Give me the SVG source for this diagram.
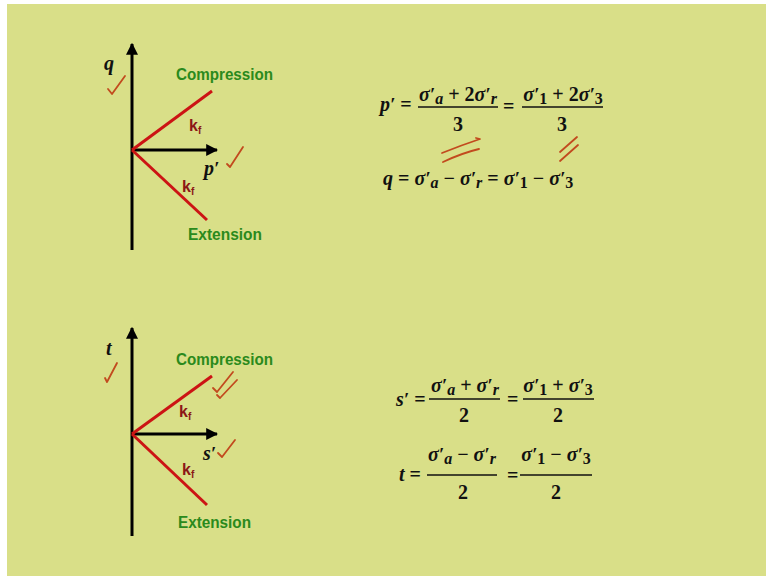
<svg xmlns="http://www.w3.org/2000/svg" width="766" height="576" viewBox="0 0 766 576">
<style>
.ax{stroke:#000;stroke-width:3;fill:none}
.fl{stroke:#cc1414;stroke-width:3;fill:none}
.lab{font-family:"Liberation Sans",Arial,sans-serif;font-weight:bold;fill:#2b8a1c;font-size:16px}
.kf{font-family:"Liberation Sans",Arial,sans-serif;font-weight:bold;fill:#8c1616;font-size:16px}
.m{font-family:"Liberation Serif","Times New Roman",serif;font-weight:bold;font-style:italic;fill:#111;font-size:20px}
.mu{font-family:"Liberation Serif","Times New Roman",serif;font-weight:bold;font-style:normal;fill:#111;font-size:20px}
.pr{font-size:19px}
.sb{font-size:16px}
.bar{stroke:#111;stroke-width:1.5}
.ink{stroke:#c24a1e;stroke-width:1.8;fill:none;stroke-linecap:round;stroke-linejoin:round}
</style>
<defs>
<marker id="ah" viewBox="0 0 10 10" refX="9" refY="5" markerWidth="4" markerHeight="4" orient="auto" markerUnits="strokeWidth">
<path d="M0,0 L10,5 L0,10 Z" fill="#000"/>
</marker>
</defs>
<rect x="0" y="0" width="766" height="576" fill="#fff"/>
<rect x="7" y="4" width="759" height="572" fill="#d9df88"/>

<g id="connectors">
<line class="ax" x1="132" y1="250" x2="132" y2="44" marker-end="url(#ah)"/>
<line class="ax" x1="132" y1="150" x2="217" y2="150" marker-end="url(#ah)"/>
<line class="fl" x1="132" y1="150" x2="212" y2="91"/>
<line class="fl" x1="132" y1="150" x2="207" y2="220"/>
<line class="ax" x1="132" y1="536" x2="132" y2="328" marker-end="url(#ah)"/>
<line class="ax" x1="132" y1="434" x2="217" y2="434" marker-end="url(#ah)"/>
<line class="fl" x1="132" y1="434" x2="212" y2="376"/>
<line class="fl" x1="132" y1="434" x2="207" y2="505"/>
</g>

<g id="qp-plot">
<text class="m" x="104" y="70">q</text>
<text class="lab" x="176" y="80" textLength="97" lengthAdjust="spacingAndGlyphs">Compression</text>
<text class="kf" x="189" y="131">k<tspan font-size="10" dy="3">f</tspan></text>
<text class="kf" x="182" y="192">k<tspan font-size="10" dy="3">f</tspan></text>
<text class="m" x="204" y="175">p<tspan class="pr">′</tspan></text>
<text class="lab" x="188" y="240" textLength="74" lengthAdjust="spacingAndGlyphs">Extension</text>
</g>

<g id="ts-plot">
<text class="m" x="106" y="355">t</text>
<text class="lab" x="176" y="365" textLength="97" lengthAdjust="spacingAndGlyphs">Compression</text>
<text class="kf" x="179" y="417">k<tspan font-size="10" dy="3">f</tspan></text>
<text class="kf" x="182" y="475">k<tspan font-size="10" dy="3">f</tspan></text>
<text class="m" x="203" y="460">s<tspan class="pr">′</tspan></text>
<text class="lab" x="178" y="528" textLength="73" lengthAdjust="spacingAndGlyphs">Extension</text>
</g>

<g id="eq-p">
<text class="m" x="380" y="111">p<tspan class="pr">′</tspan><tspan class="mu"> =</tspan></text>
<text class="m" x="458" y="101" text-anchor="middle">σ<tspan class="pr">′</tspan><tspan class="sb" dy="3">a</tspan><tspan class="mu" dy="-3"> + 2</tspan>σ<tspan class="pr">′</tspan><tspan class="sb" dy="3">r</tspan></text>
<line class="bar" x1="418" y1="107" x2="498" y2="107"/>
<text class="mu" x="458" y="131" text-anchor="middle">3</text>
<text class="mu" x="503" y="113">=</text>
<text class="m" x="563" y="101" text-anchor="middle">σ<tspan class="pr">′</tspan><tspan class="mu sb" dy="3">1</tspan><tspan class="mu" dy="-3"> + 2</tspan>σ<tspan class="pr">′</tspan><tspan class="mu sb" dy="3">3</tspan></text>
<line class="bar" x1="522" y1="107" x2="603" y2="107"/>
<text class="mu" x="562" y="131" text-anchor="middle">3</text>
</g>

<g id="eq-q">
<text class="m" x="383" y="185">q<tspan class="mu"> = </tspan>σ<tspan class="pr">′</tspan><tspan class="sb" dy="3">a</tspan><tspan class="mu" dy="-3"> − </tspan>σ<tspan class="pr">′</tspan><tspan class="sb" dy="3">r</tspan><tspan class="mu" dy="-3"> = </tspan>σ<tspan class="pr">′</tspan><tspan class="mu sb" dy="3">1</tspan><tspan class="mu" dy="-3"> − </tspan>σ<tspan class="pr">′</tspan><tspan class="mu sb" dy="3">3</tspan></text>
</g>

<g id="eq-s">
<text class="m" x="396" y="406">s<tspan class="pr">′</tspan><tspan class="mu"> =</tspan></text>
<text class="m" x="465" y="392" text-anchor="middle">σ<tspan class="pr">′</tspan><tspan class="sb" dy="3">a</tspan><tspan class="mu" dy="-3"> + </tspan>σ<tspan class="pr">′</tspan><tspan class="sb" dy="3">r</tspan></text>
<line class="bar" x1="429" y1="399" x2="500" y2="399"/>
<text class="mu" x="464" y="422" text-anchor="middle">2</text>
<text class="mu" x="507" y="406">=</text>
<text class="m" x="558" y="392" text-anchor="middle">σ<tspan class="pr">′</tspan><tspan class="mu sb" dy="3">1</tspan><tspan class="mu" dy="-3"> + </tspan>σ<tspan class="pr">′</tspan><tspan class="mu sb" dy="3">3</tspan></text>
<line class="bar" x1="523" y1="399" x2="594" y2="399"/>
<text class="mu" x="558" y="422" text-anchor="middle">2</text>
</g>

<g id="eq-t">
<text class="m" x="399" y="481">t<tspan class="mu"> =</tspan></text>
<text class="m" x="462" y="461" text-anchor="middle">σ<tspan class="pr">′</tspan><tspan class="sb" dy="3">a</tspan><tspan class="mu" dy="-3"> − </tspan>σ<tspan class="pr">′</tspan><tspan class="sb" dy="3">r</tspan></text>
<line class="bar" x1="427" y1="475" x2="497" y2="475"/>
<text class="mu" x="463" y="499" text-anchor="middle">2</text>
<text class="mu" x="507" y="482">=</text>
<text class="m" x="556" y="461" text-anchor="middle">σ<tspan class="pr">′</tspan><tspan class="mu sb" dy="3">1</tspan><tspan class="mu" dy="-3"> − </tspan>σ<tspan class="pr">′</tspan><tspan class="mu sb" dy="3">3</tspan></text>
<line class="bar" x1="520" y1="475" x2="592" y2="475"/>
<text class="mu" x="556" y="499" text-anchor="middle">2</text>
</g>

<g id="annotations">
<path class="ink" d="M108,89 L112,94 L125,76"/>
<path class="ink" d="M227,164 L230,167 L243,147"/>
<path class="ink" d="M442,153 Q462,145 480,139 L476,138"/>
<path class="ink" d="M443,162 Q462,153 479,149"/>
<path class="ink" d="M560,152 L577,137"/>
<path class="ink" d="M560,161 L578,145"/>
<path class="ink" d="M105,378 L107,382 L117,363"/>
<path class="ink" d="M213,388 L217,392 L233,372"/>
<path class="ink" d="M217,395 L220,398 L237,380"/>
<path class="ink" d="M218,453 L222,457 L235,440"/>
</g>
</svg>
